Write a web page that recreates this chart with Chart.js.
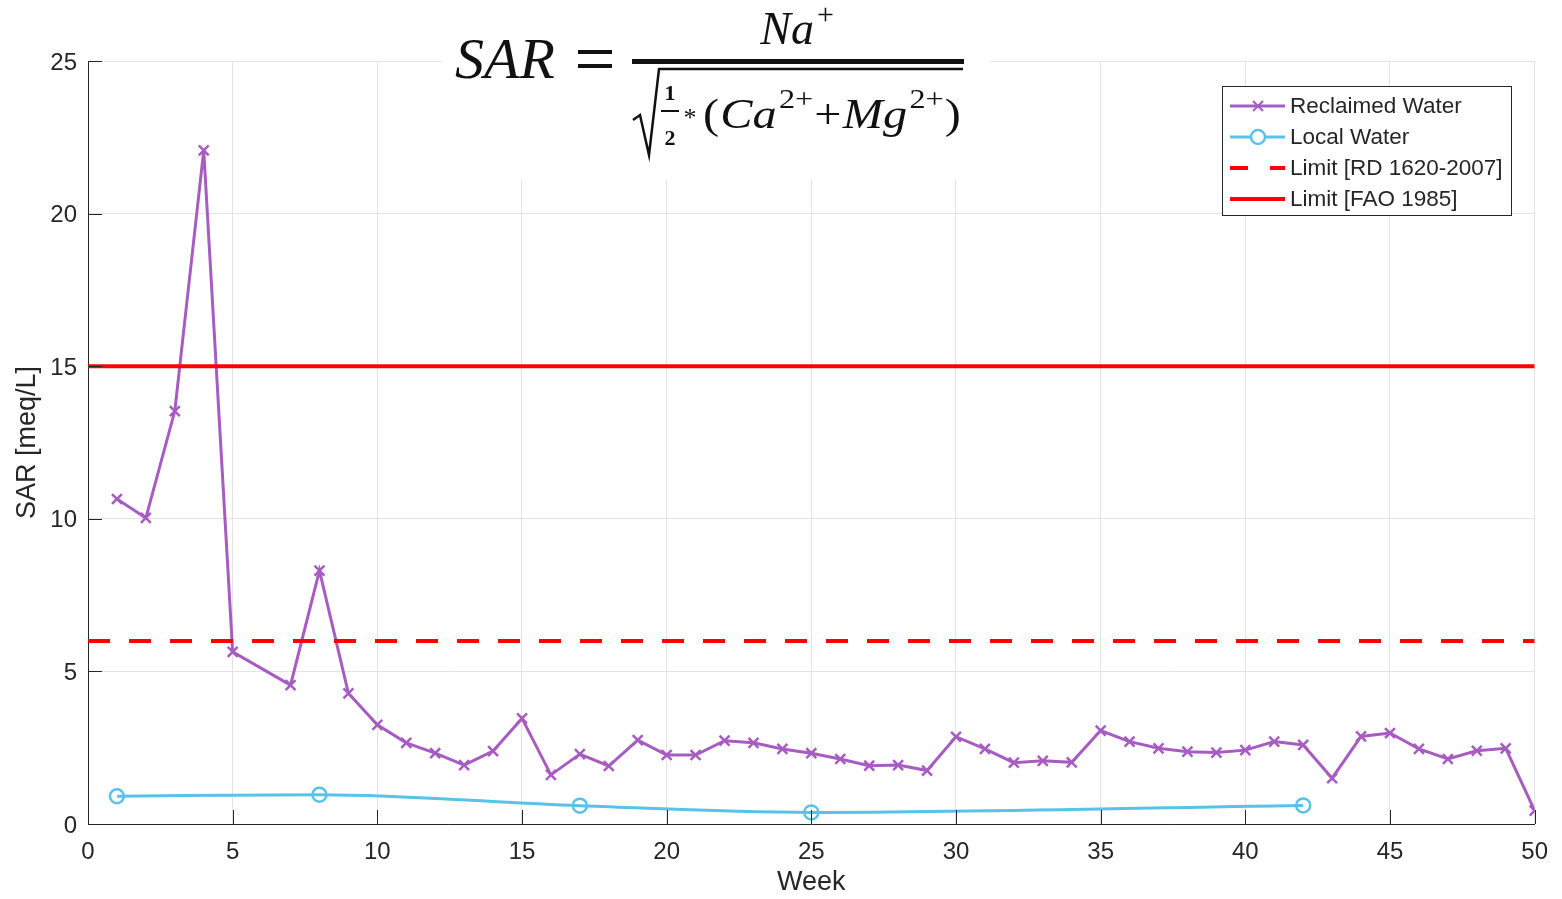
<!DOCTYPE html>
<html>
<head>
<meta charset="utf-8">
<script src="https://cdn.jsdelivr.net/npm/chart.js@4/dist/chart.umd.min.js"></script>
<style>
  html, body { margin: 0; padding: 0; background: #fff; }
  #wrap { width: 1562px; height: 899px; }
</style>
</head>
<body>
<div id="wrap"><canvas id="sarChart" width="1562" height="899"></canvas></div>
<script>
////////////////////////////// DATA //////////////////////////////
const reclaimedWeeks = [1, 2, 3, 4, 5, 6, 7, 8, 9, 10, 11, 12, 13, 14, 15, 16, 17, 18, 19, 20,
  21, 22, 23, 24, 25, 26, 27, 28, 29, 30, 31, 32, 33, 34, 35, 36, 37, 38, 39, 40,
  41, 42, 43, 44, 45, 46, 47, 48, 49, 50];
const reclaimedSar = [10.65, 10.03, 13.53, 22.07, 5.64, null, 4.55, 8.3, 4.28, 3.25, 2.66, 2.32, 1.93, 2.39, 3.46, 1.61, 2.29, 1.9, 2.75, 2.26,
  2.26, 2.73, 2.66, 2.46, 2.32, 2.13, 1.91, 1.93, 1.75, 2.86, 2.46, 2.01, 2.07, 2.02, 3.06, 2.7, 2.48, 2.37, 2.34, 2.42,
  2.7, 2.59, 1.5, 2.87, 2.98, 2.46, 2.13, 2.4, 2.48, 0.44];

const localWeeks = [1, 8, 17, 25, 42];
const localSar = [0.91, 0.96, 0.6, 0.38, 0.61];

const limitWeeks = [0, 50];
const limitRD = 6;    // RD 1620-2007
const limitFAO = 15;  // FAO 1985

const xTicks = [0, 5, 10, 15, 20, 25, 30, 35, 40, 45, 50];
const yTicks = [0, 5, 10, 15, 20, 25];

const seriesLabels = ["Reclaimed Water", "Local Water", "Limit [RD 1620-2007]", "Limit [FAO 1985]"];

////////////////////////////// STYLE //////////////////////////////
const purple = "#A65CC0";
const skyBlue = "#5BC2E7";
const red = "#FF0000";
const ink = "#262626";
const gridGray = "#e3e3e3";
const sans = "'Liberation Sans', Arial, sans-serif";
const serif = "'Liberation Serif', 'DejaVu Serif', serif";

function toPoints(xs, ys) {
  return xs.map((x, i) => ({ x: x, y: ys[i] }));
}

const datasets = [
  {
    label: seriesLabels[0],
    data: toPoints(reclaimedWeeks, reclaimedSar),
    borderColor: purple,
    backgroundColor: purple,
    borderWidth: 3,
    pointStyle: "crossRot",
    pointRadius: 7,
    pointBorderWidth: 2.5,
    pointBorderColor: purple,
    spanGaps: true,
    tension: 0,
    order: 3
  },
  {
    label: seriesLabels[1],
    data: toPoints(localWeeks, localSar),
    borderColor: skyBlue,
    backgroundColor: "rgba(255,255,255,0)",
    borderWidth: 3,
    pointStyle: "circle",
    pointRadius: 7,
    pointBorderWidth: 2.5,
    pointBorderColor: skyBlue,
    cubicInterpolationMode: "monotone",
    order: 2
  },
  {
    label: seriesLabels[2],
    data: toPoints(limitWeeks, [limitRD, limitRD]),
    borderColor: red,
    borderWidth: 4,
    borderDash: [22, 19],
    pointRadius: 0,
    order: 1
  },
  {
    label: seriesLabels[3],
    data: toPoints(limitWeeks, [limitFAO, limitFAO]),
    borderColor: red,
    borderWidth: 4,
    pointRadius: 0,
    order: 0
  }
];

////////////////////////////// PLUGINS //////////////////////////////
// MATLAB style inward tick marks
const inwardTicks = {
  id: "inwardTicks",
  afterDatasetsDraw(chart) {
    const ctx = chart.ctx;
    const xs = chart.scales.x, ys = chart.scales.y;
    const a = chart.chartArea;
    ctx.save();
    ctx.strokeStyle = ink;
    ctx.lineWidth = 1;
    xTicks.forEach(v => {
      const px = Math.round(xs.getPixelForValue(v)) + 0.5;
      ctx.beginPath();
      ctx.moveTo(px, a.bottom);
      ctx.lineTo(px, a.bottom - 14);
      ctx.stroke();
    });
    yTicks.forEach(v => {
      const py = Math.round(ys.getPixelForValue(v)) + 0.5;
      ctx.beginPath();
      ctx.moveTo(a.left, py);
      ctx.lineTo(a.left + 14, py);
      ctx.stroke();
    });
    ctx.restore();
  }
};

// draw a row of text pieces one after the other, return end x
function drawRuns(ctx, runs, x, y, doDraw) {
  runs.forEach(r => {
    ctx.font = r.font;
    if (doDraw) ctx.fillText(r.t, x, y + (r.dy || 0));
    x += ctx.measureText(r.t).width + (r.gap || 0);
  });
  return x;
}

// SAR formula drawn on a white patch above the plot
const formulaBox = {
  id: "formulaBox",
  afterDraw(chart) {
    const ctx = chart.ctx;
    ctx.save();
    ctx.fillStyle = "#fff";
    ctx.fillRect(442, 0, 548, 180);
    ctx.fillStyle = "#111";
    ctx.strokeStyle = "#111";
    ctx.textBaseline = "alphabetic";
    ctx.textAlign = "left";

    // SAR =
    ctx.font = "italic 58px " + serif;
    ctx.fillText("SAR", 455, 78);
    ctx.fillRect(578, 50, 34, 4);
    ctx.fillRect(578, 64, 34, 4);

    // fraction bar
    ctx.fillRect(632, 59, 332, 5);

    // numerator
    const num = [
      { t: "Na", font: "italic 46px " + serif, gap: 3 },
      { t: "+", font: "30px " + serif, dy: -20 }
    ];
    const nw = drawRuns(ctx, num, 0, 0, false);
    drawRuns(ctx, num, 797 - nw / 2, 44, true);

    // radical
    ctx.lineWidth = 2.5;
    ctx.beginPath();
    ctx.moveTo(633, 120);
    ctx.lineTo(640, 115);
    ctx.lineTo(649, 155);
    ctx.lineTo(659, 69);
    ctx.lineTo(963, 69);
    ctx.stroke();

    // 1/2
    ctx.font = "bold 22px " + serif;
    ctx.textAlign = "center";
    ctx.fillText("1", 670, 100);
    ctx.fillText("2", 670, 145);
    ctx.fillRect(661, 110, 18, 2);
    ctx.font = "26px " + serif;
    ctx.fillText("*", 690, 126);
    ctx.textAlign = "left";

    // (Ca2+ + Mg2+)
    const den = [
      { t: "(", font: "42px " + serif, gap: 1 },
      { t: "Ca", font: "italic 42px " + serif, gap: 2 },
      { t: "2+", font: "28px " + serif, dy: -20, gap: 1 },
      { t: "+", font: "42px " + serif, gap: 1 },
      { t: "Mg", font: "italic 42px " + serif, gap: 2 },
      { t: "2+", font: "28px " + serif, dy: -20, gap: 1 },
      { t: ")", font: "42px " + serif }
    ];
    const dw = drawRuns(ctx, den, 0, 0, false);
    ctx.translate(703, 128);
    const k = Math.min(1.15, 259 / dw);
    ctx.scale(k, 1);
    drawRuns(ctx, den, 0, 0, true);
    ctx.restore();
  }
};

// legend box inside the plot, upper right
const boxLegend = {
  id: "boxLegend",
  afterDraw(chart) {
    const ctx = chart.ctx;
    const x0 = 1222, y0 = 86, w = 289, h = 129;
    ctx.save();
    ctx.fillStyle = "#fff";
    ctx.fillRect(x0, y0, w, h);
    ctx.strokeStyle = ink;
    ctx.lineWidth = 1;
    ctx.strokeRect(x0 + 0.5, y0 + 0.5, w, h);
    ctx.font = "22.5px " + sans;
    ctx.textBaseline = "middle";
    chart.data.datasets.forEach((ds, i) => {
      const cy = y0 + 20 + i * 31;
      ctx.strokeStyle = ds.borderColor;
      ctx.lineWidth = ds.borderWidth;
      ctx.setLineDash(ds.borderDash ? [18, 22] : []);
      ctx.beginPath();
      ctx.moveTo(x0 + 8, cy);
      ctx.lineTo(x0 + 63, cy);
      ctx.stroke();
      ctx.setLineDash([]);
      if (ds.pointStyle === "crossRot") {
        ctx.lineWidth = 2;
        ctx.beginPath();
        ctx.moveTo(x0 + 31, cy - 5); ctx.lineTo(x0 + 41, cy + 5);
        ctx.moveTo(x0 + 41, cy - 5); ctx.lineTo(x0 + 31, cy + 5);
        ctx.stroke();
      } else if (ds.pointStyle === "circle" && ds.pointRadius > 0) {
        ctx.lineWidth = 2.5;
        ctx.fillStyle = "#fff";
        ctx.beginPath();
        ctx.arc(x0 + 36, cy, 7, 0, Math.PI * 2);
        ctx.fill();
        ctx.stroke();
      }
      ctx.fillStyle = ink;
      ctx.fillText(ds.label, x0 + 68, cy + 1);
    });
    ctx.restore();
  }
};

////////////////////////////// CHART //////////////////////////////
const config = {
  type: "line",
  data: { datasets: datasets },
  options: {
    responsive: false,
    animation: false,
    layout: { padding: { left: 0, right: 26, top: 61, bottom: 0 } },
    plugins: {
      legend: { display: false },
      tooltip: { enabled: false }
    },
    scales: {
      x: {
        type: "linear",
        min: 0,
        max: 50,
        afterFit: (s) => { s.height = 75; },
        afterBuildTicks: (s) => { s.ticks = xTicks.map(v => ({ value: v })); },
        ticks: { color: ink, font: { family: sans, size: 24 }, padding: 14, maxRotation: 0 },
        grid: { color: gridGray, drawTicks: false },
        border: { display: true, color: ink, width: 1 },
        title: { display: true, text: "Week", color: ink, font: { family: sans, size: 27 }, padding: { top: 0, bottom: 0 } }
      },
      y: {
        min: 0,
        max: 25,
        afterFit: (s) => { s.width = 88; },
        afterBuildTicks: (s) => { s.ticks = yTicks.map(v => ({ value: v })); },
        ticks: { color: ink, font: { family: sans, size: 24 }, padding: 11, labelOffset: 2 },
        grid: { color: gridGray, drawTicks: false },
        border: { display: true, color: ink, width: 1 },
        title: { display: true, text: "SAR [meq/L]", color: ink, font: { family: sans, size: 27 }, padding: { top: 11, bottom: 0 } }
      }
    }
  },
  plugins: [inwardTicks, formulaBox, boxLegend]
};

const myChart = new Chart(document.getElementById("sarChart"), config);
</script>
</body>
</html>
